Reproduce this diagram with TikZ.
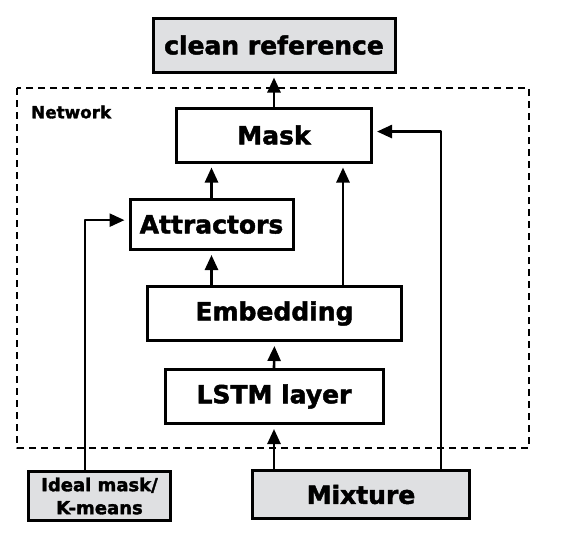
\documentclass[tikz,border=0pt]{standalone}
\usepackage{fontspec}
\setmainfont{DejaVu Sans}[BoldFeatures={FakeBold=1.8}]
\usetikzlibrary{arrows.meta}
\definecolor{boxgray}{RGB}{223,224,226}

\begin{document}
\begin{tikzpicture}[line cap=round, line join=round, x=1pt, y=-1pt,
        box/.style={draw, line width=3pt, line cap=butt, line join=miter, inner sep=0pt,
            font=\fontsize{25}{30}\selectfont\bfseries},
        greybox/.style={box, fill=boxgray},
        arr/.style={line width=2.6pt, -{Triangle[length=15pt,width=13pt]}, shorten >=4pt}]

                \useasboundingbox (0,0) rectangle (563,533);

                % network frame
                \draw[line width=2.5pt, dash pattern=on 7pt off 5pt, line cap=butt] (17,88) rectangle (529,448);
                \node[anchor=west, inner sep=0pt, font=\fontsize{16.8}{20}\selectfont\bfseries] (net) at (31,112) {Network};

                \node[greybox, minimum width=242pt, minimum height=54pt] (clean) at (274,45) {clean reference};
                \node[box, minimum width=195pt, minimum height=54pt] (mask) at (274,135) {Mask};
                \node[box, minimum width=163pt, minimum height=50pt] (attr) at (211.5,224.5) {Attractors};
                \node[box, minimum width=254pt, minimum height=54pt] (emb) at (274.5,313.5) {Embedding};
                \node[box, minimum width=218pt, minimum height=54pt] (lstm) at (274,396.5) {LSTM layer};
                \node[greybox, minimum width=142pt, minimum height=49pt, align=center,
                      font=\fontsize{18}{23}\selectfont\bfseries] (ideal) at (99.5,496) {Ideal mask/\\K-means};
                \node[greybox, minimum width=217pt, minimum height=48pt] (mix) at (361,494.5) {Mixture};

                \coordinate (embtap) at (343,313);
                \coordinate (mixtap) at (441,495);
                \coordinate (idltap) at (85,496);

                \draw[arr] (mask.north) -- (clean.south);
                \draw[arr] (attr.north) -- (attr.north |- mask.south);
                \draw[arr] (embtap |- emb.north) -- (embtap |- mask.south);
                \draw[arr] (emb.north -| attr.north) -- (attr.south);
                \draw[arr] (lstm.north) -- (emb.south);
                \draw[arr] (mix.north -| lstm.south) -- (lstm.south);
                \draw[arr] (mixtap |- mix.north) |- (mask.2);
                \draw[arr] (idltap |- ideal.north) |- (attr.177);

            \end{tikzpicture}
\end{document}
